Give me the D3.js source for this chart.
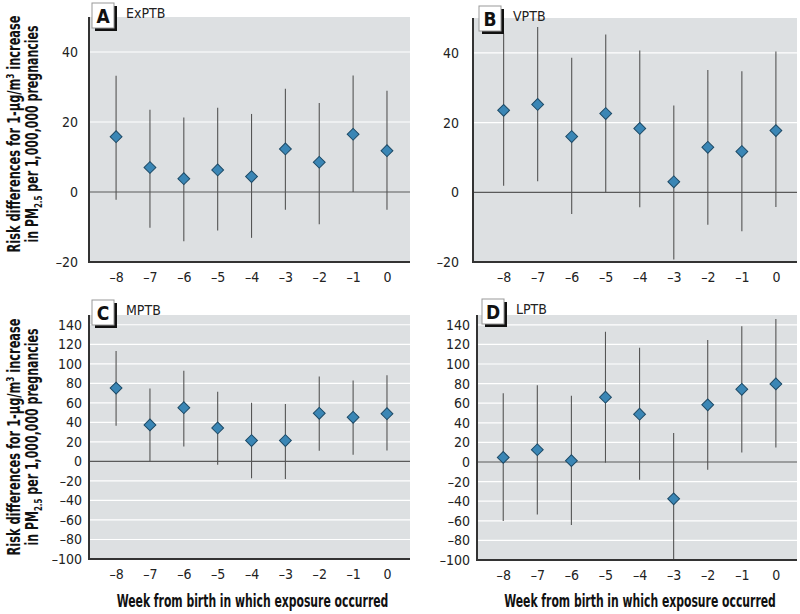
<!DOCTYPE html>
<html><head><meta charset="utf-8">
<script src="https://cdn.jsdelivr.net/npm/d3@7"></script>
<style>
html,body{margin:0;padding:0;background:#fff;}
svg{display:block;}
text{font-family:'DejaVu Sans Condensed','Liberation Sans Narrow',sans-serif;}
</style></head><body>
<svg id="chart" width="800" height="614"></svg>
<script>
// ---- data ----
const weeks = [-8,-7,-6,-5,-4,-3,-2,-1,0];
const panelLetters = ["A","B","C","D"];
const panelNames = ["ExPTB","VPTB","MPTB","LPTB"];

const exptbEst = [15.8, 7.0, 3.8, 6.3, 4.4, 12.3, 8.5, 16.5, 11.8];
const exptbLo  = [-2.2,-10.2,-14.1,-11.0,-13.1,-5.1,-9.2, 0.0,-5.1];
const exptbHi  = [33.2, 23.5, 21.3, 24.1, 22.3, 29.5, 25.4, 33.3, 28.9];

const vptbEst = [23.5, 25.2, 16.0, 22.6, 18.3, 3.0, 12.9, 11.7, 17.7];
const vptbLo  = [1.9, 3.2, -6.2, 0.0, -4.3, -19.3, -9.3, -11.2, -4.2];
const vptbHi  = [45.5, 47.4, 38.6, 45.3, 40.7, 24.9, 35.1, 34.7, 40.4];

const mptbEst = [75.1, 37.4, 55.0, 34.3, 21.4, 21.4, 49.3, 45.2, 48.9];
const mptbLo  = [36.4, 0.0, 15.3, -3.4, -17.3, -18.0, 10.9, 6.8, 11.2];
const mptbHi  = [113.1, 74.8, 92.8, 71.4, 60.1, 58.8, 87.0, 82.9, 88.3];

const lptbEst = [4.7, 12.5, 1.4, 66.1, 48.8, -37.6, 58.3, 74.2, 79.7];
const lptbLo  = [-60.3, -53.6, -64.4, -0.7, -18.0, -100, -7.8, 9.8, 14.9];
const lptbHi  = [70.2, 78.3, 67.5, 132.9, 116.6, 29.5, 124.4, 138.6, 145.8];

const topTicks = [-20, 0, 20, 40];
const bottomTicks = [-100,-80,-60,-40,-20,0,20,40,60,80,100,120,140];
const topDomain = [-20, 50];
const bottomDomain = [-100, 150];

const xTitle = "Week from birth in which exposure occurred";

// ---- layout ----
const panels = [
  {est:exptbEst, lo:exptbLo, hi:exptbHi, ticks:topTicks, ydom:topDomain,
   x0:89, x1:410, y0:17, y1:262, xdom:[-8.8,0.68], lblGap:11, box:[92,3]},
  {est:vptbEst, lo:vptbLo, hi:vptbHi, ticks:topTicks, ydom:topDomain,
   x0:473, x1:797, y0:18, y1:262, xdom:[-8.9,0.62], lblGap:14, box:[479,6]},
  {est:mptbEst, lo:mptbLo, hi:mptbHi, ticks:bottomTicks, ydom:bottomDomain,
   x0:89, x1:410, y0:315, y1:559, xdom:[-8.8,0.68], lblGap:7, box:[92,300]},
  {est:lptbEst, lo:lptbLo, hi:lptbHi, ticks:bottomTicks, ydom:bottomDomain,
   x0:477, x1:797, y0:315, y1:560, xdom:[-8.77,0.62], lblGap:7, box:[482,299]}
];

const svg = d3.select("#chart");
const fmt = v => (v < 0 ? "\u2013" + Math.abs(v) : String(v));

// squeeze a text horizontally (in its own frame) to a target width
function fitText(sel, cx, cy, rot, target) {
  const w = sel.node().getComputedTextLength();
  const s = target / w;
  sel.attr("transform", `translate(${cx},${cy}) rotate(${rot}) scale(${s},1)`);
}

panels.forEach((p, i) => {
  const x = d3.scaleLinear().domain(p.xdom).range([p.x0, p.x1]);
  const y = d3.scaleLinear().domain(p.ydom).range([p.y1, p.y0]);
  const g = svg.append("g");

  g.append("rect").attr("x", p.x0).attr("y", p.y0)
    .attr("width", p.x1 - p.x0).attr("height", p.y1 - p.y0)
    .attr("fill", "#dde0e2");

  // gridlines
  g.selectAll(".grid").data(p.ticks.filter(t => t !== 0 && t !== p.ydom[0]))
    .enter().append("line")
    .attr("x1", p.x0).attr("x2", p.x1)
    .attr("y1", d => y(d)).attr("y2", d => y(d))
    .attr("stroke", "#fff").attr("stroke-width", 1.2);

  // zero line
  g.append("line").attr("x1", p.x0).attr("x2", p.x1)
    .attr("y1", y(0)).attr("y2", y(0))
    .attr("stroke", "#5a5a5a").attr("stroke-width", 1.2);

  // y axis labels
  const ya = d3.axisLeft(y).tickValues(p.ticks).tickSize(0).tickPadding(p.lblGap).tickFormat(fmt);
  const yg = g.append("g").attr("transform", `translate(${p.x0},0)`).call(ya);
  yg.select(".domain").remove();
  yg.selectAll("text").attr("font-size", 14).attr("fill", "#222")
    .style("font-family", "'DejaVu Sans Condensed',sans-serif");

  // x axis labels
  const xa = d3.axisBottom(x).tickValues(weeks).tickSize(0).tickPadding(10).tickFormat(fmt);
  const xg = g.append("g").attr("transform", `translate(0,${p.y1})`).call(xa);
  xg.select(".domain").remove();
  xg.selectAll("text").attr("font-size", 14).attr("fill", "#222")
    .style("font-family", "'DejaVu Sans Condensed',sans-serif");

  // error bars
  g.selectAll(".err").data(weeks).enter().append("line")
    .attr("x1", (d) => x(d)).attr("x2", (d) => x(d))
    .attr("y1", (d, j) => y(Math.max(p.lo[j], p.ydom[0])))
    .attr("y2", (d, j) => y(p.hi[j]))
    .attr("stroke", "#555").attr("stroke-width", 1.1);

  // markers
  const sym = d3.symbol().type(d3.symbolSquare).size(70);
  g.selectAll(".pt").data(weeks).enter().append("path")
    .attr("d", sym)
    .attr("transform", (d, j) => `translate(${x(d)},${y(p.est[j])}) rotate(45)`)
    .attr("fill", "#3a86b5").attr("stroke", "#1d4a66").attr("stroke-width", 1);

  // axis lines
  g.append("line").attr("x1", p.x0).attr("x2", p.x0).attr("y1", p.y0).attr("y2", p.y1 + 1)
    .attr("stroke", "#333").attr("stroke-width", 2);
  g.append("line").attr("x1", p.x0 - 1).attr("x2", p.x1).attr("y1", p.y1).attr("y2", p.y1)
    .attr("stroke", "#333").attr("stroke-width", 2);

  // panel label box
  const [bx, by] = p.box;
  g.append("rect").attr("x", bx + 3).attr("y", by + 3).attr("width", 22).attr("height", 25)
    .attr("fill", "#111");
  g.append("rect").attr("x", bx).attr("y", by).attr("width", 22).attr("height", 25)
    .attr("fill", "#fff").attr("stroke", "#999").attr("stroke-width", 1);
  g.append("text").attr("x", bx + 11).attr("y", by + 19.5).attr("text-anchor", "middle")
    .attr("font-size", 19).attr("font-weight", "bold").attr("fill", "#111")
    .text(panelLetters[i]);
  g.append("text").attr("x", bx + 34).attr("y", by + 15).attr("font-size", 14)
    .attr("fill", "#222").text(panelNames[i]);

  // x title for bottom panels
  if (i >= 2) {
    const xt = svg.append("text").attr("text-anchor", "middle").attr("font-size", 17)
      .attr("font-weight", "bold").attr("fill", "#111").text(xTitle);
    fitText(xt, (p.x0 + p.x1) / 2 + 3, 607, 0, 272);
  }
  // y title for left panels
  if (i === 0 || i === 2) {
    const cy = i === 0 ? 134 : 437;
    const t = svg.append("text").attr("text-anchor", "middle").attr("font-size", 17)
      .attr("font-weight", "bold").attr("fill", "#111");
    t.append("tspan").text("Risk differences for 1-\u03BCg/m");
    t.append("tspan").attr("font-size", 11).attr("dy", -6).text("3");
    t.append("tspan").attr("dy", 6).text(" increase");
    fitText(t, 20, cy, -90, 237);
    const t2 = svg.append("text").attr("text-anchor", "middle").attr("font-size", 17)
      .attr("font-weight", "bold").attr("fill", "#111");
    t2.append("tspan").text("in PM");
    t2.append("tspan").attr("font-size", 11).attr("dy", 4).text("2.5");
    t2.append("tspan").attr("dy", -4).text(" per 1,000,000 pregnancies");
    fitText(t2, 38, cy, -90, 217);
  }
});
</script>
</body></html>
